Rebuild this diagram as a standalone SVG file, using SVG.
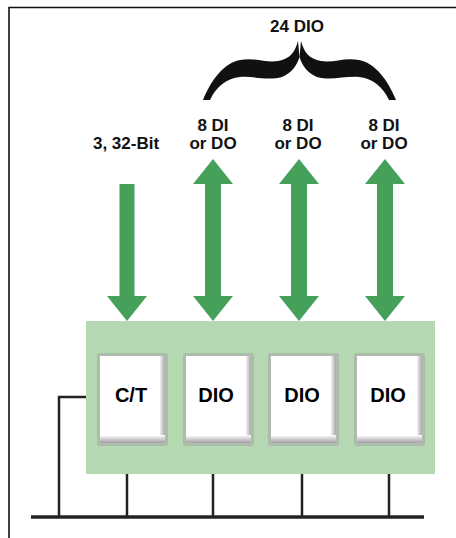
<svg xmlns="http://www.w3.org/2000/svg" width="456" height="538" viewBox="0 0 456 538">
<defs>
<style>
.lbl{font-family:"Liberation Sans",Arial,sans-serif;font-weight:bold;font-size:17px;fill:#111;text-anchor:middle}
.btxt{font-family:"Liberation Sans",Arial,sans-serif;font-weight:bold;font-size:20px;fill:#000;text-anchor:middle}
.arrow{fill:#45a05a}
.wire{stroke:#222;stroke-width:2.5;fill:none}
.bus{stroke:#222;stroke-width:3.5;fill:none}
.frame{stroke:#111;stroke-width:1.6;fill:none}
</style>
<linearGradient id="rsh" x1="0" y1="0" x2="1" y2="0">
<stop offset="0" stop-color="#ffffff"/>
<stop offset="1" stop-color="#a8a8a8"/>
</linearGradient>
<linearGradient id="bsh" x1="0" y1="0" x2="0" y2="1">
<stop offset="0" stop-color="#ffffff"/>
<stop offset="1" stop-color="#a0a0a0"/>
</linearGradient>
<g id="btn">
<rect x="0" y="0" width="71" height="93" rx="3" fill="#a9bea6"/>
<rect x="2" y="2" width="67" height="89" fill="#b8b8b8"/>
<rect x="62" y="3" width="6" height="86" fill="url(#rsh)"/>
<rect x="3" y="82" width="65" height="8" fill="url(#bsh)"/>
<rect x="3" y="3" width="60" height="80" fill="#ffffff"/>
</g>
</defs>
<rect width="456" height="538" fill="#ffffff"/>
<g id="frame">
<polyline class="frame" points="9,538 9,7.5 456,7.5"/>
</g>
<g id="brace" fill="#111">
<path d="M298,41 C295,52 290,59 278,61 C265,63 255,57 240,60 C224,63 211,80 203,100 L210,100 C216,87 227,78 240,77 C255,76 268,81 282,77 C292,73 297,65 299.5,57 Z"/>
<path d="M301,41 C304,52 309,59 321,61 C334,63 344,57 359,60 C375,63 388,80 396,100 L389,100 C383,87 372,78 359,77 C344,76 331,81 317,77 C307,73 302,65 299.5,57 Z"/>
</g>
<g id="labels">
<text class="lbl" x="297" y="32">24 DIO</text>
<text class="lbl" x="126" y="149">3, 32-Bit</text>
<text class="lbl" x="213" y="131">8 DI</text>
<text class="lbl" x="213" y="149">or DO</text>
<text class="lbl" x="298" y="131">8 DI</text>
<text class="lbl" x="298" y="149">or DO</text>
<text class="lbl" x="384" y="131">8 DI</text>
<text class="lbl" x="384" y="149">or DO</text>
</g>
<g id="connectors">
<polygon class="arrow" points="119.5,184 134.5,184 134.5,296 147,296 127,321 107,296 119.5,296"/>
<polygon class="arrow" points="213,159 233,184 221,184 221,296 233,296 213,321 193,296 205,296 205,184 193,184"/>
<polygon class="arrow" points="299,159 319,184 307,184 307,296 319,296 299,321 279,296 291,296 291,184 279,184"/>
<polygon class="arrow" points="385,159 405,184 393,184 393,296 405,296 385,321 365,296 377,296 377,184 365,184"/>
<polyline class="wire" points="86,397 59,397 59,517"/>
<line class="wire" x1="127" y1="474" x2="127" y2="517"/>
<line class="wire" x1="213" y1="474" x2="213" y2="517"/>
<line class="wire" x1="302" y1="474" x2="302" y2="517"/>
<line class="wire" x1="389" y1="474" x2="389" y2="517"/>
<line class="bus" x1="31" y1="517" x2="424" y2="517"/>
</g>
<g id="board">
<rect x="86" y="321" width="349" height="153" fill="#b5d7b2"/>
</g>
<g id="ct">
<use href="#btn" x="97" y="353"/>
<text class="btxt" x="131" y="402">C/T</text>
</g>
<g id="dio1">
<use href="#btn" x="183" y="353"/>
<text class="btxt" x="216" y="402">DIO</text>
</g>
<g id="dio2">
<use href="#btn" x="268" y="353"/>
<text class="btxt" x="302" y="402">DIO</text>
</g>
<g id="dio3">
<use href="#btn" x="354" y="353"/>
<text class="btxt" x="388" y="402">DIO</text>
</g>
</svg>
